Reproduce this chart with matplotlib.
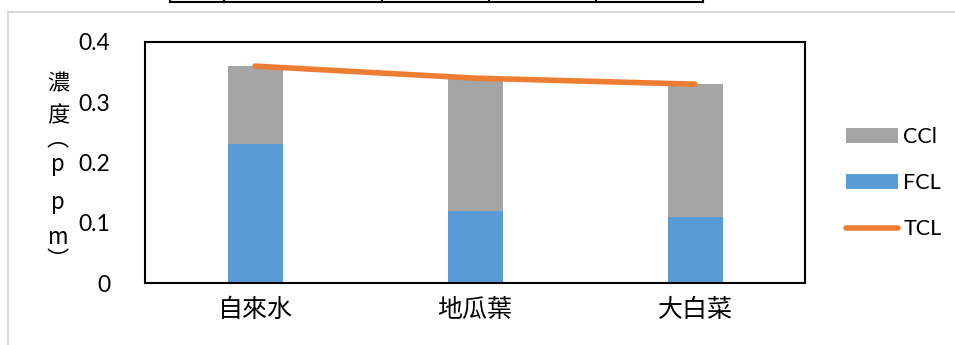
import matplotlib.pyplot as plt
import numpy as np
from matplotlib.lines import Line2D

plt.rcParams['font.family'] = ['Lato', 'Noto Sans CJK TC', 'DejaVu Sans']

categories = ['自來水', '地瓜葉', '大白菜']
fcl = [0.23, 0.12, 0.11]
ccl = [0.13, 0.22, 0.22]
tcl = [0.36, 0.34, 0.33]
yticks = [0, 0.1, 0.2, 0.3, 0.4]
ylabel_chars = ['濃', '度', '︵', 'p', 'p', 'm', '︶']

blue = '#5b9bd5'
gray = '#a5a5a5'
orange = '#ed7d31'

fig = plt.figure(figsize=(9.55, 3.45), dpi=100)
W, H = 955, 345

# chart frame and table edge above it
fig.add_artist(Line2D([8 / W, 1], [1 - 12 / H] * 2, color='#d9d9d9', lw=1.5))
fig.add_artist(Line2D([8 / W] * 2, [0, 1 - 12 / H], color='#d9d9d9', lw=1.5))
fig.add_artist(Line2D([170 / W, 703 / W], [1 - 2 / H] * 2, color='black', lw=1.5))
for xv in [170, 224, 382, 489, 596, 703]:
    fig.add_artist(Line2D([xv / W] * 2, [1, 1 - 2 / H], color='black', lw=1.5))

ax = fig.add_axes([145 / W, 1 - 283 / H, 660 / W, 241 / H])
x = np.arange(len(categories))
ax.bar(x, fcl, width=0.25, color=blue, label='FCL', zorder=2)
ax.bar(x, ccl, width=0.25, bottom=fcl, color=gray, label='CCl', zorder=2)
ax.plot(x, tcl, color=orange, lw=4, solid_capstyle='round', label='TCL', zorder=3)

ax.set_xlim(-0.5, 2.5)
ax.set_ylim(0, 0.4)
ax.set_yticks(yticks)
ax.set_yticklabels(['0', '0.1', '0.2', '0.3', '0.4'], fontsize=16.5)
ax.set_xticks(x)
ax.set_xticklabels(categories, fontsize=18, family=['Noto Sans CJK TC'])
ax.tick_params(length=0)
ax.tick_params(axis='y', pad=25)
ax.tick_params(axis='x', pad=10)
for s in ax.spines.values():
    s.set_linewidth(1.5)

# stacked vertical axis title
ys = [84, 116, 139, 164, 203, 238, 260]
for ch, yy in zip(ylabel_chars, ys):
    fig.text(58 / W, 1 - yy / H, ch, ha='center', va='center', fontsize=16,
             family=['Noto Sans CJK TC'])

h, l = ax.get_legend_handles_labels()
by = dict(zip(l, h))
leg = fig.legend([by['CCl'], by['FCL'], by['TCL']], ['CCl', 'FCL', 'TCL'],
                 loc='center left', bbox_to_anchor=(827 / W, 1 - 183 / H),
                 frameon=False, fontsize=15.5, handlelength=2.4, handleheight=0.7,
                 labelspacing=1.22, handletextpad=0.25)

fig.savefig('out.png', dpi=100)
